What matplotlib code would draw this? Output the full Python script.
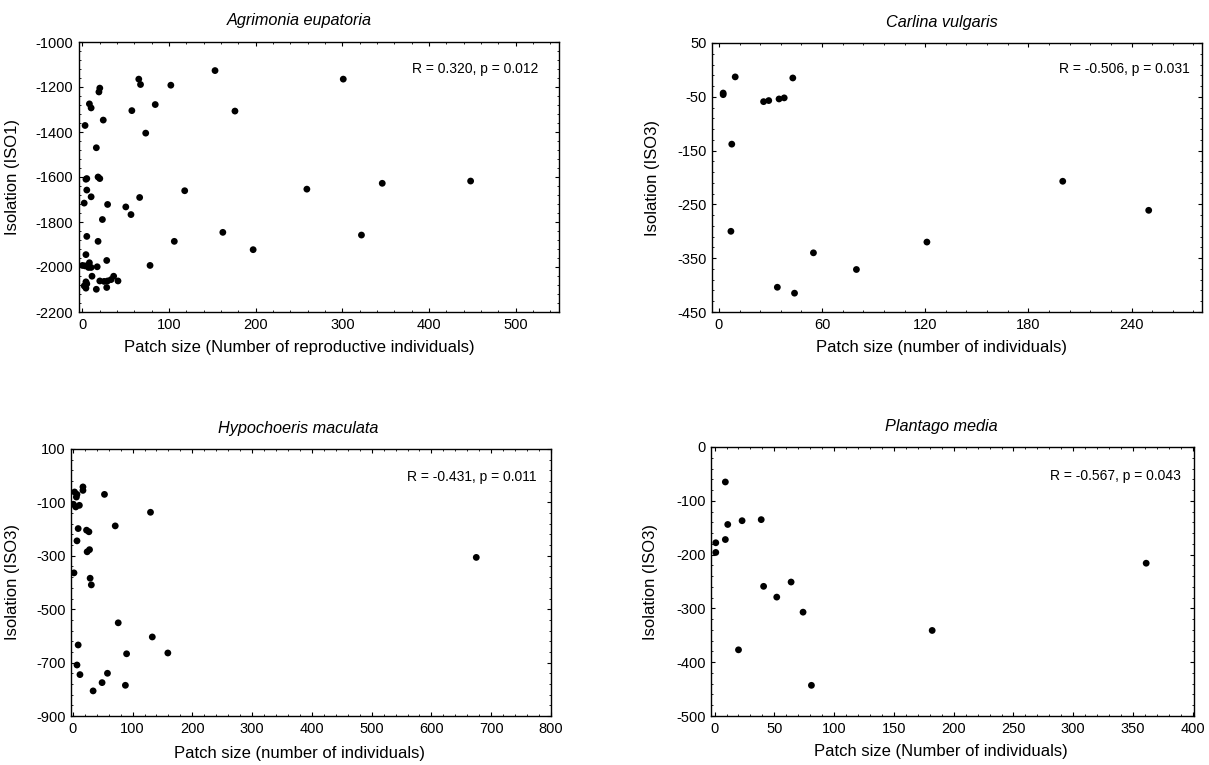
import numpy as np
import matplotlib
matplotlib.use("Agg")
import matplotlib.pyplot as plt
from matplotlib.ticker import AutoMinorLocator

plt.rcParams['font.family'] = ['Liberation Sans', 'DejaVu Sans']
plt.rcParams['axes.unicode_minus'] = False

# Agrimonia eupatoria
agr_x = [153, 301, 65, 67, 102, 20, 19, 8, 10, 57, 84, 176, 24, 3, 73, 16, 5, 4, 18, 20,
         448, 346, 259, 118, 5, 10, 66, 2, 29, 50, 56, 23, 162, 322, 18, 106, 5, 197, 4,
         28, 78, 0, 3, 8, 7, 10, 17, 11, 36, 20, 29, 41, 33, 4, 2, 4, 16, 28, 5, 25]
agr_y = [-1127, -1165, -1165, -1189, -1192, -1205, -1222, -1275, -1293, -1305, -1278, -1307,
         -1347, -1371, -1405, -1470, -1607, -1610, -1600, -1607, -1618, -1628, -1654, -1661,
         -1658, -1688, -1691, -1716, -1722, -1733, -1767, -1789, -1846, -1858, -1886, -1886,
         -1864, -1923, -1945, -1971, -1993, -1993, -1995, -1981, -2002, -2002, -1999, -2041,
         -2041, -2062, -2062, -2062, -2056, -2066, -2084, -2094, -2099, -2091, -2075, -2064]

# Carlina vulgaris
car_x = [9.5, 43, 2.5, 2.5, 26, 29, 35, 38, 7.5, 200, 250, 7, 121, 55, 80, 34, 44]
car_y = [-13, -15, -43, -46, -59, -57, -54, -52, -138, -207, -261, -300, -320, -340, -371, -404, -415]

# Hypochoeris maculata
hyp_x = [675, 17, 17, 3, 7, 6, 53, 1, 5, 11, 130, 71, 9, 23, 27, 7, 24, 28, 2, 29, 31,
         76, 133, 9, 90, 159, 7, 12, 58, 49, 88, 34]
hyp_y = [-306, -42, -55, -61, -70, -80, -70, -107, -117, -111, -137, -188, -198, -204, -210,
         -244, -285, -277, -364, -384, -409, -551, -604, -634, -667, -664, -709, -745, -740,
         -775, -785, -806]

# Plantago media
pla_x = [9, 11, 23, 39, 9, 1, 1, 361, 64, 41, 52, 74, 182, 20, 81]
pla_y = [-65, -144, -137, -135, -172, -178, -196, -216, -251, -259, -279, -307, -341, -377, -443]

W, H = 1209, 765
fig = plt.figure(figsize=(W / 100, H / 100), dpi=100)


def add_panel(box, xs, ys, title, xlabel, ylabel, stat, xlim, ylim, xticks, yticks,
              title_x, ylab_x, xlab_x, xlab_y, stat_pos):
    l, t, r, b = box
    ax = fig.add_axes([l / W, 1 - b / H, (r - l) / W, (b - t) / H])
    ax.scatter(xs, ys, s=24, c='black', edgecolors='none', zorder=3)
    ax.set_xlim(*xlim)
    ax.set_ylim(*ylim)
    ax.set_xticks(xticks)
    ax.set_yticks(yticks)
    ax.xaxis.set_minor_locator(AutoMinorLocator(5))
    ax.yaxis.set_minor_locator(AutoMinorLocator(5))
    ax.tick_params(which='both', direction='in', top=True, right=True, labelsize=10.5, pad=4)
    ax.tick_params(which='major', length=3, width=0.8)
    ax.tick_params(which='minor', length=1.5, width=0.6)
    for sp in ax.spines.values():
        sp.set_linewidth(1.0)
    ax.text(title_x, 1 + 21 / (b - t), title, transform=ax.transAxes, ha='center',
            va='center', fontsize=11.7, style='italic')
    ax.set_ylabel(ylabel, fontsize=12)
    ax.yaxis.set_label_coords(ylab_x, 0.5)
    ax.set_xlabel(xlabel, fontsize=12)
    ax.xaxis.set_label_coords(xlab_x, xlab_y)
    ax.text(stat_pos[0], stat_pos[1], stat, transform=ax.transAxes, ha='right',
            va='center', fontsize=10)
    return ax


add_panel((79, 42, 559, 312), agr_x, agr_y, 'Agrimonia eupatoria',
          'Patch size (Number of reproductive individuals)', 'Isolation (ISO1)',
          'R = 0.320, p = 0.012', (-4, 550), (-2200, -1000),
          [0, 100, 200, 300, 400, 500], np.arange(-2200, -999, 200),
          0.458, -0.123, 0.46, -0.105, (0.958, 0.90))

add_panel((712, 43, 1202, 312), car_x, car_y, 'Carlina vulgaris',
          'Patch size (number of individuals)', 'Isolation (ISO3)',
          'R = -0.506, p = 0.031', (-4, 281), (-450, 50),
          [0, 60, 120, 180, 240], np.arange(-450, 51, 100),
          0.469, -0.106, 0.469, -0.105, (0.976, 0.903))

add_panel((71, 449, 551, 716), hyp_x, hyp_y, 'Hypochoeris maculata',
          'Patch size (number of individuals)', 'Isolation (ISO3)',
          'R = -0.431, p = 0.011', (-3, 800), (-900, 100),
          np.arange(0, 801, 100), np.arange(-900, 101, 200),
          0.474, -0.107, 0.475, -0.112, (0.969, 0.895))

add_panel((711, 447, 1194, 716), pla_x, pla_y, 'Plantago media',
          'Patch size (Number of individuals)', 'Isolation (ISO3)',
          'R = -0.567, p = 0.043', (-3, 401), (-500, 0),
          np.arange(0, 401, 50), np.arange(-500, 1, 100),
          0.476, -0.11, 0.476, -0.105, (0.973, 0.892))

fig.savefig('out.png', dpi=100)
